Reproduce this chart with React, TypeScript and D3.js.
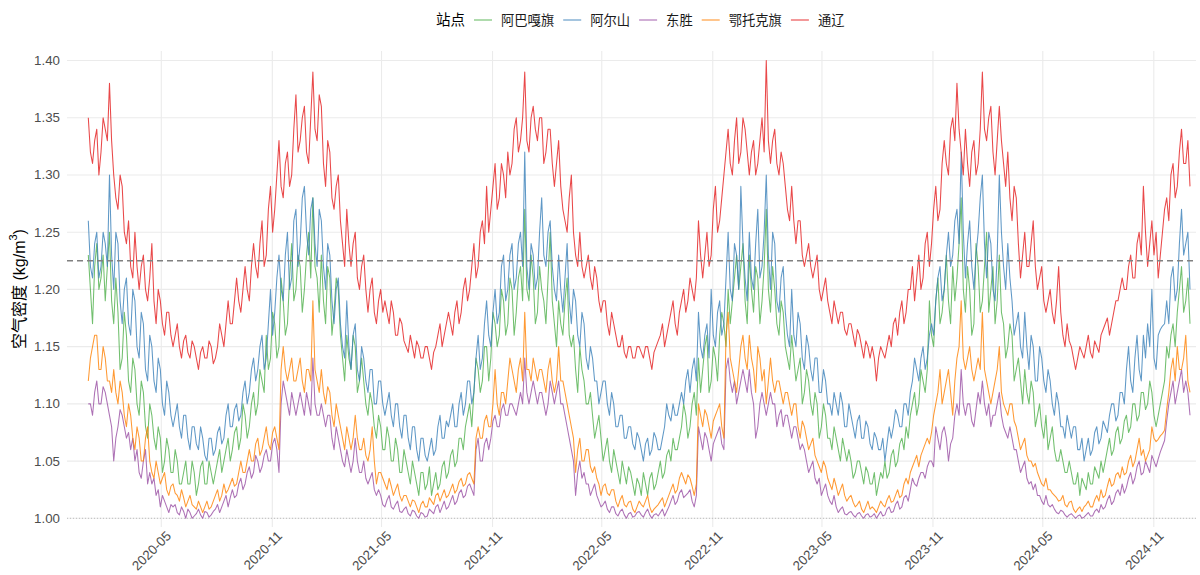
import React from "react";
import * as d3 from "d3";

// ---------------- DATA (half-weekly samples, 2020-01-01 .. 2024-12-31) ----------------
const START_DATE = "2020-01-01";
const END_DATE = "2024-12-31";

const stations = ["阿巴嘎旗", "阿尔山", "东胜", "鄂托克旗", "通辽"];

const abagaqi = [
  1.23, 1.20, 1.17, 1.22, 1.24, 1.20, 1.21, 1.23, 1.19, 1.22,
  1.25, 1.19, 1.17, 1.21, 1.18, 1.13, 1.14, 1.18, 1.16, 1.12,
  1.11, 1.14, 1.13, 1.10, 1.09, 1.12, 1.11, 1.08, 1.07, 1.10,
  1.09, 1.07, 1.06, 1.08, 1.07, 1.04, 1.05, 1.07, 1.06, 1.04,
  1.04, 1.06, 1.05, 1.03, 1.03, 1.04, 1.05, 1.03, 1.03, 1.05,
  1.04, 1.02, 1.03, 1.045, 1.05, 1.03, 1.03, 1.05, 1.04, 1.03,
  1.04, 1.05, 1.06, 1.04, 1.05, 1.06, 1.07, 1.05, 1.06, 1.075,
  1.08, 1.06, 1.07, 1.10, 1.09, 1.07, 1.08, 1.10, 1.11, 1.09,
  1.10, 1.13, 1.12, 1.11, 1.16, 1.13, 1.14, 1.18, 1.17, 1.14,
  1.15, 1.21, 1.19, 1.16, 1.17, 1.21, 1.24, 1.19, 1.20, 1.23,
  1.22, 1.18, 1.20, 1.23, 1.25, 1.21, 1.28, 1.22, 1.21, 1.18,
  1.23, 1.19, 1.17, 1.22, 1.21, 1.16, 1.18, 1.21, 1.20, 1.16,
  1.14, 1.12, 1.16, 1.14, 1.13, 1.16, 1.15, 1.11, 1.12, 1.14,
  1.12, 1.10, 1.09, 1.11, 1.10, 1.08, 1.07, 1.09, 1.08, 1.06,
  1.06, 1.08, 1.07, 1.05, 1.05, 1.07, 1.06, 1.04, 1.04, 1.06,
  1.05, 1.04, 1.03, 1.05, 1.04, 1.03, 1.02, 1.04, 1.04, 1.025,
  1.03, 1.045, 1.02, 1.03, 1.04, 1.025, 1.03, 1.045, 1.05, 1.035,
  1.04, 1.055, 1.06, 1.045, 1.05, 1.07, 1.07, 1.06, 1.08, 1.09,
  1.10, 1.08, 1.11, 1.14, 1.13, 1.11, 1.12, 1.15, 1.15, 1.12,
  1.14, 1.18, 1.17, 1.15, 1.16, 1.20, 1.19, 1.16, 1.17, 1.21,
  1.20, 1.16, 1.18, 1.21, 1.22, 1.19, 1.27, 1.20, 1.19, 1.23,
  1.21, 1.17, 1.18, 1.22, 1.20, 1.19, 1.17, 1.21, 1.25, 1.19,
  1.17, 1.15, 1.19, 1.17, 1.16, 1.19, 1.21, 1.16, 1.15, 1.16,
  1.13, 1.11, 1.15, 1.13, 1.12, 1.10, 1.10, 1.11, 1.09, 1.07,
  1.08, 1.09, 1.07, 1.05, 1.06, 1.07, 1.05, 1.04, 1.06, 1.05,
  1.04, 1.03, 1.05, 1.04, 1.03, 1.045, 1.04, 1.03, 1.02, 1.035,
  1.03, 1.02, 1.04, 1.03, 1.02, 1.035, 1.04, 1.025, 1.03, 1.04,
  1.05, 1.035, 1.04, 1.055, 1.06, 1.05, 1.07, 1.06, 1.06, 1.07,
  1.08, 1.10, 1.09, 1.07, 1.08, 1.10, 1.11, 1.09, 1.14, 1.11,
  1.13, 1.15, 1.16, 1.11, 1.12, 1.15, 1.14, 1.12, 1.16, 1.18,
  1.17, 1.15, 1.20, 1.17, 1.19, 1.21, 1.23, 1.20, 1.22, 1.24,
  1.19, 1.17, 1.23, 1.20, 1.18, 1.22, 1.21, 1.17, 1.19, 1.22,
  1.27, 1.20, 1.18, 1.22, 1.20, 1.17, 1.16, 1.19, 1.18, 1.15,
  1.14, 1.13, 1.16, 1.14, 1.12, 1.13, 1.14, 1.10, 1.11, 1.13,
  1.12, 1.10, 1.09, 1.11, 1.10, 1.07, 1.08, 1.10, 1.09, 1.07,
  1.07, 1.06, 1.08, 1.07, 1.06, 1.05, 1.07, 1.06, 1.05, 1.06,
  1.05, 1.035, 1.04, 1.05, 1.05, 1.04, 1.03, 1.045, 1.04, 1.03,
  1.03, 1.04, 1.02, 1.03, 1.04, 1.035, 1.05, 1.035, 1.04, 1.055,
  1.06, 1.045, 1.05, 1.065, 1.07, 1.06, 1.08, 1.07, 1.09, 1.10,
  1.11, 1.09, 1.10, 1.13, 1.12, 1.11, 1.13, 1.19, 1.16, 1.15,
  1.19, 1.21, 1.17, 1.18, 1.20, 1.23, 1.19, 1.17, 1.22, 1.19,
  1.21, 1.24, 1.28, 1.20, 1.18, 1.22, 1.20, 1.16, 1.17, 1.24,
  1.22, 1.18, 1.19, 1.22, 1.25, 1.18, 1.20, 1.22, 1.17, 1.19,
  1.23, 1.18, 1.17, 1.14, 1.15, 1.17, 1.16, 1.12, 1.13, 1.14,
  1.12, 1.10, 1.13, 1.11, 1.10, 1.12, 1.11, 1.08, 1.09, 1.10,
  1.08, 1.07, 1.09, 1.06, 1.07, 1.08, 1.06, 1.05, 1.05, 1.06,
  1.05, 1.04, 1.04, 1.05, 1.04, 1.03, 1.03, 1.04, 1.02, 1.035,
  1.03, 1.025, 1.04, 1.03, 1.03, 1.045, 1.04, 1.035, 1.05, 1.04,
  1.05, 1.06, 1.07, 1.055, 1.06, 1.075, 1.08, 1.065, 1.07, 1.085,
  1.09, 1.075, 1.08, 1.10, 1.10, 1.085, 1.09, 1.11, 1.11, 1.095,
  1.10, 1.12, 1.11, 1.09, 1.08, 1.09, 1.10, 1.11, 1.12, 1.15,
  1.14, 1.16, 1.17, 1.15, 1.18, 1.20, 1.22, 1.18, 1.19, 1.21, 1.17,
];

const aershan = [
  1.26, 1.22, 1.21, 1.24, 1.25, 1.21, 1.22, 1.25, 1.24, 1.22,
  1.30, 1.23, 1.20, 1.25, 1.24, 1.19, 1.17, 1.20, 1.21, 1.17,
  1.16, 1.20, 1.19, 1.15, 1.14, 1.18, 1.17, 1.13, 1.12, 1.16,
  1.15, 1.12, 1.11, 1.14, 1.13, 1.10, 1.09, 1.12, 1.11, 1.09,
  1.08, 1.09, 1.10, 1.08, 1.07, 1.09, 1.09, 1.07, 1.06, 1.08,
  1.08, 1.065, 1.06, 1.08, 1.07, 1.055, 1.05, 1.07, 1.07, 1.055,
  1.06, 1.075, 1.08, 1.065, 1.07, 1.09, 1.10, 1.08, 1.08, 1.095,
  1.10, 1.085, 1.09, 1.11, 1.12, 1.10, 1.11, 1.13, 1.14, 1.12,
  1.13, 1.15, 1.16, 1.13, 1.14, 1.17, 1.20, 1.16, 1.18, 1.21,
  1.23, 1.20, 1.19, 1.23, 1.25, 1.20, 1.21, 1.26, 1.27, 1.22,
  1.24, 1.28, 1.29, 1.25, 1.23, 1.27, 1.28, 1.24, 1.22, 1.27,
  1.26, 1.22, 1.20, 1.24, 1.23, 1.19, 1.17, 1.20, 1.21, 1.17,
  1.15, 1.14, 1.19, 1.15, 1.13, 1.16, 1.17, 1.13, 1.12, 1.15,
  1.14, 1.12, 1.11, 1.13, 1.13, 1.10, 1.10, 1.12, 1.12, 1.10,
  1.09, 1.10, 1.11, 1.09, 1.08, 1.10, 1.10, 1.08, 1.07, 1.09,
  1.09, 1.07, 1.06, 1.08, 1.08, 1.06, 1.05, 1.07, 1.07, 1.055,
  1.05, 1.06, 1.07, 1.055, 1.06, 1.08, 1.09, 1.07, 1.07, 1.085,
  1.08, 1.09, 1.10, 1.08, 1.08, 1.10, 1.11, 1.09, 1.10, 1.12,
  1.12, 1.10, 1.11, 1.14, 1.16, 1.13, 1.14, 1.17, 1.19, 1.16,
  1.15, 1.18, 1.20, 1.17, 1.18, 1.22, 1.23, 1.19, 1.20, 1.23,
  1.24, 1.20, 1.21, 1.24, 1.25, 1.22, 1.32, 1.22, 1.20, 1.24,
  1.23, 1.20, 1.21, 1.25, 1.28, 1.23, 1.22, 1.25, 1.26, 1.22,
  1.20, 1.19, 1.23, 1.20, 1.18, 1.21, 1.24, 1.19, 1.17, 1.20,
  1.19, 1.16, 1.15, 1.18, 1.17, 1.14, 1.13, 1.15, 1.14, 1.12,
  1.12, 1.10, 1.11, 1.12, 1.12, 1.10, 1.09, 1.11, 1.10, 1.08,
  1.08, 1.09, 1.09, 1.07, 1.07, 1.08, 1.08, 1.065, 1.06, 1.075,
  1.07, 1.06, 1.05, 1.065, 1.07, 1.055, 1.06, 1.075, 1.07, 1.06,
  1.06, 1.07, 1.08, 1.10, 1.09, 1.085, 1.10, 1.09, 1.09, 1.10,
  1.11, 1.10, 1.12, 1.13, 1.11, 1.13, 1.14, 1.12, 1.18, 1.15,
  1.14, 1.16, 1.17, 1.14, 1.20, 1.16, 1.15, 1.18, 1.19, 1.16,
  1.17, 1.21, 1.25, 1.20, 1.19, 1.24, 1.23, 1.20, 1.29, 1.24,
  1.21, 1.19, 1.25, 1.21, 1.20, 1.24, 1.27, 1.21, 1.22, 1.25,
  1.30, 1.23, 1.20, 1.25, 1.24, 1.19, 1.18, 1.21, 1.22, 1.18,
  1.16, 1.15, 1.20, 1.16, 1.15, 1.18, 1.17, 1.14, 1.13, 1.16,
  1.15, 1.13, 1.12, 1.14, 1.14, 1.11, 1.11, 1.13, 1.12, 1.10,
  1.10, 1.09, 1.11, 1.10, 1.09, 1.11, 1.10, 1.08, 1.08, 1.10,
  1.09, 1.08, 1.07, 1.085, 1.09, 1.07, 1.07, 1.085, 1.08, 1.065,
  1.06, 1.075, 1.07, 1.06, 1.06, 1.07, 1.05, 1.065, 1.08, 1.07,
  1.08, 1.095, 1.09, 1.08, 1.08, 1.10, 1.10, 1.09, 1.11, 1.12,
  1.14, 1.13, 1.12, 1.14, 1.15, 1.13, 1.14, 1.16, 1.17, 1.16,
  1.19, 1.21, 1.22, 1.19, 1.20, 1.23, 1.25, 1.22, 1.23, 1.26,
  1.27, 1.24, 1.32, 1.25, 1.21, 1.24, 1.26, 1.22, 1.20, 1.23,
  1.25, 1.28, 1.30, 1.24, 1.21, 1.25, 1.24, 1.20, 1.19, 1.23,
  1.30, 1.25, 1.22, 1.20, 1.24, 1.21, 1.19, 1.16, 1.17, 1.18,
  1.15, 1.14, 1.18, 1.15, 1.13, 1.16, 1.15, 1.12, 1.12, 1.15,
  1.14, 1.12, 1.11, 1.13, 1.12, 1.10, 1.09, 1.11, 1.10, 1.08,
  1.08, 1.07, 1.09, 1.08, 1.07, 1.08, 1.08, 1.06, 1.06, 1.07,
  1.05, 1.06, 1.07, 1.055, 1.06, 1.075, 1.08, 1.065, 1.07, 1.085,
  1.08, 1.075, 1.09, 1.10, 1.10, 1.085, 1.09, 1.11, 1.11, 1.10,
  1.13, 1.15, 1.12, 1.11, 1.14, 1.16, 1.13, 1.12, 1.16, 1.14,
  1.17, 1.15, 1.20, 1.14, 1.13, 1.16, 1.165, 1.168, 1.17, 1.19,
  1.17, 1.21, 1.22, 1.19, 1.20, 1.24, 1.27, 1.23, 1.24, 1.25, 1.20,
];

const dongsheng = [
  1.10, 1.10, 1.09, 1.11, 1.12, 1.10, 1.10, 1.115, 1.11, 1.10,
  1.09, 1.08, 1.05, 1.07, 1.08, 1.095, 1.09, 1.08, 1.07, 1.075,
  1.06, 1.07, 1.05, 1.06, 1.04, 1.035, 1.05, 1.06, 1.03, 1.04,
  1.03, 1.035, 1.02, 1.025, 1.01, 1.02, 1.015, 1.01, 1.005, 1.012,
  1.01, 1.012, 1.005, 1.003, 1.01, 1.006, 1.0, 1.008, 1.005, 1.0,
  1.002, 1.004, 1.008, 1.003, 1.0, 1.006, 1.005, 1.001, 1.003, 1.006,
  1.008, 1.012, 1.005, 1.01, 1.015, 1.02, 1.01, 1.018, 1.025, 1.018,
  1.02, 1.03, 1.035, 1.025, 1.03, 1.04, 1.045, 1.035, 1.04, 1.055,
  1.05, 1.04, 1.045, 1.055, 1.06, 1.05, 1.05, 1.065, 1.07, 1.06,
  1.04, 1.10, 1.12, 1.11, 1.10, 1.09, 1.11, 1.10, 1.09, 1.10,
  1.11, 1.10, 1.09, 1.11, 1.10, 1.09, 1.14, 1.10, 1.09, 1.09,
  1.10, 1.09, 1.08, 1.09, 1.09, 1.07, 1.06, 1.08, 1.07, 1.06,
  1.05, 1.045, 1.06, 1.05, 1.04, 1.05, 1.07, 1.05, 1.04, 1.04,
  1.05, 1.035, 1.03, 1.035, 1.04, 1.025, 1.02, 1.025, 1.02, 1.012,
  1.01, 1.016, 1.02, 1.01, 1.008, 1.012, 1.015, 1.006, 1.005, 1.008,
  1.01, 1.004, 1.002, 1.007, 1.006, 1.002, 1.0, 1.005, 1.004, 1.001,
  1.002, 1.008, 1.006, 1.004, 1.01, 1.012, 1.005, 1.01, 1.015, 1.008,
  1.01, 1.015, 1.02, 1.012, 1.015, 1.022, 1.025, 1.018, 1.02, 1.028,
  1.03, 1.025, 1.02, 1.06, 1.07, 1.05, 1.05, 1.065, 1.07, 1.06,
  1.07, 1.085, 1.09, 1.08, 1.08, 1.095, 1.10, 1.09, 1.09, 1.10,
  1.10, 1.095, 1.09, 1.10, 1.11, 1.10, 1.14, 1.11, 1.10, 1.11,
  1.12, 1.11, 1.10, 1.11, 1.11, 1.10, 1.09, 1.10, 1.12, 1.11,
  1.10, 1.11, 1.12, 1.10, 1.10, 1.09, 1.08, 1.07, 1.06, 1.05,
  1.02, 1.04, 1.05, 1.035, 1.04, 1.03, 1.03, 1.02, 1.025, 1.03,
  1.02, 1.015, 1.01, 1.012, 1.015, 1.008, 1.005, 1.01, 1.01, 1.004,
  1.002, 1.006, 1.008, 1.003, 1.0, 1.004, 1.005, 1.001, 1.002, 1.005,
  1.006, 1.003, 1.001, 1.005, 1.008, 1.003, 1.0, 1.003, 1.004, 1.002,
  1.005, 1.008, 1.002, 1.006, 1.01, 1.015, 1.02, 1.012, 1.015, 1.022,
  1.025, 1.018, 1.02, 1.022, 1.025, 1.015, 1.01, 1.02, 1.08, 1.07,
  1.06, 1.075, 1.07, 1.06, 1.05, 1.065, 1.07, 1.075, 1.08, 1.065,
  1.06, 1.13, 1.14, 1.12, 1.11, 1.12, 1.10, 1.11, 1.12, 1.13,
  1.12, 1.11, 1.13, 1.11, 1.10, 1.07, 1.08, 1.10, 1.11, 1.10,
  1.09, 1.10, 1.11, 1.10, 1.10, 1.08, 1.09, 1.095, 1.08, 1.09,
  1.09, 1.08, 1.07, 1.08, 1.08, 1.07, 1.06, 1.065, 1.06, 1.05,
  1.04, 1.045, 1.05, 1.035, 1.03, 1.035, 1.02, 1.025, 1.03, 1.02,
  1.015, 1.012, 1.02, 1.01, 1.005, 1.008, 1.01, 1.004, 1.003, 1.005,
  1.006, 1.003, 1.001, 1.004, 1.005, 1.002, 1.0, 1.003, 1.004, 1.001,
  1.002, 1.004, 1.0, 1.003, 1.006, 1.002, 1.003, 1.008, 1.01, 1.005,
  1.006, 1.012, 1.015, 1.008, 1.01, 1.018, 1.02, 1.015, 1.025, 1.035,
  1.03, 1.028, 1.035, 1.04, 1.04, 1.035, 1.045, 1.05, 1.05, 1.045,
  1.08, 1.07, 1.06, 1.075, 1.08, 1.07, 1.05, 1.065, 1.07, 1.09,
  1.10, 1.09, 1.13, 1.10, 1.09, 1.10, 1.10, 1.085, 1.08, 1.095,
  1.11, 1.10, 1.12, 1.10, 1.09, 1.10, 1.08, 1.09, 1.09, 1.10,
  1.11, 1.09, 1.08, 1.075, 1.07, 1.08, 1.07, 1.06, 1.06, 1.05,
  1.04, 1.045, 1.05, 1.035, 1.03, 1.032, 1.025, 1.03, 1.02, 1.02,
  1.015, 1.012, 1.02, 1.012, 1.01, 1.012, 1.008, 1.005, 1.004, 1.007,
  1.006, 1.003, 1.001, 1.003, 1.004, 1.002, 1.0, 1.002, 1.003, 1.0,
  1.001, 1.003, 1.005, 1.002, 1.002, 1.006, 1.008, 1.005, 1.012, 1.008,
  1.01, 1.016, 1.02, 1.012, 1.015, 1.022, 1.025, 1.02, 1.03, 1.022,
  1.027, 1.035, 1.04, 1.03, 1.035, 1.045, 1.05, 1.038, 1.04, 1.05,
  1.045, 1.04, 1.055, 1.05, 1.045, 1.052, 1.058, 1.063, 1.068, 1.085,
  1.10, 1.11, 1.12, 1.10, 1.11, 1.12, 1.13, 1.11, 1.12, 1.11, 1.09,
];

const etuokeqi = [
  1.12, 1.14, 1.15, 1.16, 1.16, 1.13, 1.13, 1.15, 1.14, 1.12,
  1.12, 1.11, 1.13, 1.11, 1.10, 1.12, 1.11, 1.09, 1.08, 1.10,
  1.09, 1.07, 1.06, 1.08, 1.07, 1.05, 1.05, 1.07, 1.08, 1.05,
  1.04, 1.035, 1.05, 1.04, 1.03, 1.035, 1.04, 1.025, 1.02, 1.028,
  1.03, 1.022, 1.02, 1.015, 1.025, 1.018, 1.01, 1.015, 1.02, 1.012,
  1.01, 1.008, 1.015, 1.01, 1.005, 1.01, 1.015, 1.008, 1.01, 1.015,
  1.02, 1.025, 1.015, 1.02, 1.03, 1.022, 1.025, 1.03, 1.035, 1.028,
  1.03, 1.04, 1.05, 1.04, 1.04, 1.05, 1.06, 1.05, 1.05, 1.065,
  1.07, 1.055, 1.06, 1.07, 1.08, 1.065, 1.06, 1.075, 1.08, 1.07,
  1.06, 1.13, 1.15, 1.13, 1.12, 1.13, 1.14, 1.12, 1.12, 1.13,
  1.14, 1.12, 1.11, 1.13, 1.13, 1.12, 1.19, 1.13, 1.12, 1.11,
  1.13, 1.11, 1.10, 1.115, 1.11, 1.09, 1.08, 1.10, 1.09, 1.08,
  1.07, 1.06, 1.08, 1.07, 1.06, 1.07, 1.09, 1.07, 1.06, 1.06,
  1.07, 1.055, 1.05, 1.06, 1.08, 1.05, 1.03, 1.04, 1.04, 1.035,
  1.03, 1.025, 1.035, 1.028, 1.02, 1.025, 1.03, 1.02, 1.015, 1.02,
  1.02, 1.015, 1.01, 1.016, 1.015, 1.01, 1.005, 1.012, 1.015, 1.01,
  1.01, 1.018, 1.015, 1.012, 1.02, 1.022, 1.015, 1.02, 1.025, 1.018,
  1.02, 1.025, 1.03, 1.022, 1.025, 1.032, 1.035, 1.028, 1.03, 1.038,
  1.04, 1.035, 1.03, 1.07, 1.08, 1.07, 1.07, 1.085, 1.09, 1.08,
  1.08, 1.10, 1.13, 1.10, 1.09, 1.11, 1.11, 1.10, 1.12, 1.14,
  1.13, 1.12, 1.11, 1.13, 1.14, 1.12, 1.18, 1.13, 1.13, 1.12,
  1.14, 1.13, 1.12, 1.13, 1.13, 1.12, 1.11, 1.13, 1.14, 1.12,
  1.11, 1.12, 1.15, 1.12, 1.12, 1.11, 1.10, 1.09, 1.08, 1.07,
  1.04, 1.06, 1.07, 1.05, 1.05, 1.06, 1.06, 1.045, 1.04, 1.045,
  1.035, 1.03, 1.02, 1.028, 1.03, 1.022, 1.02, 1.025, 1.025, 1.015,
  1.01, 1.016, 1.02, 1.012, 1.01, 1.014, 1.015, 1.008, 1.005, 1.01,
  1.015, 1.012, 1.01, 1.015, 1.02, 1.01, 1.005, 1.008, 1.01, 1.012,
  1.015, 1.018, 1.01, 1.015, 1.02, 1.025, 1.03, 1.022, 1.025, 1.035,
  1.04, 1.035, 1.03, 1.038, 1.035, 1.028, 1.02, 1.03, 1.10, 1.09,
  1.08, 1.095, 1.09, 1.08, 1.07, 1.085, 1.09, 1.095, 1.10, 1.08,
  1.07, 1.16, 1.18, 1.14, 1.13, 1.12, 1.11, 1.13, 1.15, 1.16,
  1.14, 1.13, 1.16, 1.14, 1.13, 1.11, 1.15, 1.14, 1.12, 1.13,
  1.10, 1.12, 1.14, 1.12, 1.11, 1.12, 1.12, 1.11, 1.10, 1.11,
  1.11, 1.10, 1.09, 1.10, 1.10, 1.08, 1.07, 1.085, 1.08, 1.07,
  1.06, 1.065, 1.07, 1.055, 1.05, 1.045, 1.04, 1.05, 1.045, 1.035,
  1.03, 1.025, 1.035, 1.028, 1.02, 1.025, 1.03, 1.02, 1.015, 1.018,
  1.02, 1.014, 1.01, 1.012, 1.015, 1.008, 1.005, 1.01, 1.015, 1.008,
  1.01, 1.008, 1.005, 1.01, 1.015, 1.012, 1.01, 1.016, 1.02, 1.014,
  1.015, 1.02, 1.025, 1.018, 1.02, 1.03, 1.035, 1.03, 1.04, 1.045,
  1.05, 1.055, 1.045, 1.055, 1.06, 1.065, 1.07, 1.065, 1.075, 1.09,
  1.10, 1.11, 1.13, 1.10, 1.11, 1.12, 1.13, 1.11, 1.09, 1.12,
  1.14, 1.15, 1.19, 1.14, 1.13, 1.14, 1.15, 1.13, 1.12, 1.13,
  1.14, 1.13, 1.18, 1.13, 1.12, 1.11, 1.10, 1.11, 1.12, 1.13,
  1.15, 1.11, 1.10, 1.095, 1.09, 1.10, 1.10, 1.085, 1.08, 1.07,
  1.06, 1.065, 1.07, 1.055, 1.05, 1.05, 1.045, 1.048, 1.04, 1.035,
  1.03, 1.028, 1.035, 1.025, 1.025, 1.022, 1.02, 1.018, 1.015, 1.016,
  1.02, 1.012, 1.01, 1.014, 1.015, 1.008, 1.005, 1.008, 1.01, 1.006,
  1.01, 1.012, 1.015, 1.01, 1.01, 1.016, 1.02, 1.015, 1.025, 1.018,
  1.02, 1.028, 1.035, 1.028, 1.03, 1.038, 1.04, 1.035, 1.045, 1.038,
  1.04, 1.05, 1.055, 1.045, 1.05, 1.06, 1.07, 1.055, 1.06, 1.05,
  1.055, 1.06, 1.08, 1.07, 1.067, 1.069, 1.072, 1.074, 1.077, 1.095,
  1.11, 1.13, 1.14, 1.12, 1.15, 1.13, 1.13, 1.14, 1.16, 1.12, 1.11,
];

const tongliao = [
  1.35, 1.32, 1.31, 1.33, 1.34, 1.30, 1.32, 1.35, 1.34, 1.33,
  1.38, 1.33, 1.30, 1.28, 1.27, 1.30, 1.29, 1.25, 1.24, 1.26,
  1.22, 1.21, 1.25, 1.22, 1.20, 1.22, 1.23, 1.20, 1.19, 1.21,
  1.24, 1.19, 1.17, 1.20, 1.19, 1.17, 1.16, 1.18, 1.18, 1.16,
  1.15, 1.16, 1.17, 1.15, 1.14, 1.155, 1.16, 1.145, 1.14, 1.155,
  1.15, 1.14, 1.13, 1.145, 1.15, 1.14, 1.14, 1.155, 1.15, 1.135,
  1.14, 1.15, 1.17, 1.16, 1.15, 1.17, 1.19, 1.17, 1.17, 1.19,
  1.21, 1.19, 1.18, 1.20, 1.22, 1.20, 1.19, 1.22, 1.24, 1.22,
  1.21, 1.24, 1.26, 1.22, 1.23, 1.27, 1.29, 1.25, 1.27, 1.30,
  1.33, 1.29, 1.28, 1.31, 1.32, 1.29, 1.30, 1.34, 1.37, 1.32,
  1.33, 1.35, 1.36, 1.32, 1.31, 1.35, 1.39, 1.34, 1.33, 1.37,
  1.36, 1.31, 1.29, 1.33, 1.32, 1.28, 1.27, 1.29, 1.30, 1.26,
  1.24, 1.22, 1.27, 1.24, 1.22, 1.24, 1.25, 1.21, 1.20, 1.22,
  1.23, 1.20, 1.18, 1.20, 1.21, 1.18, 1.17, 1.19, 1.20, 1.18,
  1.19, 1.18, 1.17, 1.19, 1.18, 1.16, 1.16, 1.175, 1.17, 1.155,
  1.15, 1.145, 1.16, 1.15, 1.14, 1.155, 1.15, 1.14, 1.14, 1.15,
  1.15, 1.14, 1.13, 1.145, 1.15, 1.16, 1.17, 1.15, 1.16, 1.17,
  1.18, 1.17, 1.16, 1.18, 1.19, 1.17, 1.18, 1.20, 1.21, 1.19,
  1.20, 1.22, 1.24, 1.21, 1.22, 1.25, 1.26, 1.24, 1.29, 1.25,
  1.27, 1.29, 1.31, 1.27, 1.28, 1.31, 1.30, 1.28, 1.32, 1.30,
  1.31, 1.34, 1.35, 1.32, 1.33, 1.35, 1.39, 1.33, 1.32, 1.35,
  1.36, 1.34, 1.33, 1.35, 1.35, 1.31, 1.32, 1.34, 1.34, 1.31,
  1.29, 1.31, 1.33, 1.29, 1.27, 1.26, 1.25, 1.28, 1.30, 1.25,
  1.23, 1.22, 1.25, 1.22, 1.21, 1.22, 1.23, 1.21, 1.20, 1.22,
  1.21, 1.19, 1.18, 1.19, 1.19, 1.17, 1.16, 1.18, 1.17, 1.16,
  1.15, 1.15, 1.16, 1.145, 1.14, 1.15, 1.15, 1.14, 1.14, 1.15,
  1.15, 1.145, 1.14, 1.15, 1.15, 1.14, 1.13, 1.145, 1.15, 1.155,
  1.16, 1.17, 1.15, 1.16, 1.17, 1.18, 1.19, 1.17, 1.16, 1.18,
  1.19, 1.20, 1.18, 1.19, 1.21, 1.20, 1.19, 1.21, 1.26, 1.23,
  1.21, 1.23, 1.25, 1.22, 1.23, 1.27, 1.29, 1.25, 1.26, 1.28,
  1.30, 1.32, 1.34, 1.31, 1.30, 1.33, 1.35, 1.31, 1.32, 1.35,
  1.34, 1.32, 1.30, 1.32, 1.33, 1.30, 1.31, 1.33, 1.35, 1.32,
  1.40, 1.33, 1.31, 1.33, 1.34, 1.31, 1.30, 1.32, 1.31, 1.29,
  1.27, 1.26, 1.29, 1.26, 1.24, 1.26, 1.26, 1.23, 1.22, 1.23,
  1.24, 1.22, 1.21, 1.22, 1.23, 1.20, 1.19, 1.20, 1.21, 1.19,
  1.18, 1.17, 1.19, 1.18, 1.17, 1.18, 1.18, 1.165, 1.16, 1.17,
  1.17, 1.16, 1.15, 1.165, 1.16, 1.15, 1.14, 1.155, 1.15, 1.14,
  1.15, 1.14, 1.12, 1.14, 1.15, 1.145, 1.14, 1.15, 1.16, 1.15,
  1.17, 1.175, 1.16, 1.18, 1.19, 1.17, 1.18, 1.20, 1.20, 1.22,
  1.19, 1.21, 1.23, 1.20, 1.21, 1.24, 1.25, 1.22, 1.24, 1.27,
  1.29, 1.26, 1.27, 1.31, 1.33, 1.31, 1.30, 1.34, 1.35, 1.33,
  1.38, 1.34, 1.32, 1.30, 1.34, 1.31, 1.29, 1.32, 1.33, 1.30,
  1.31, 1.34, 1.39, 1.34, 1.33, 1.35, 1.36, 1.32, 1.30, 1.33,
  1.36, 1.33, 1.31, 1.29, 1.32, 1.28, 1.26, 1.29, 1.28, 1.24,
  1.21, 1.23, 1.25, 1.22, 1.22, 1.24, 1.26, 1.22, 1.20, 1.21,
  1.22, 1.19, 1.18, 1.19, 1.20, 1.18, 1.17, 1.19, 1.22, 1.18,
  1.16, 1.15, 1.17, 1.155, 1.15, 1.14, 1.13, 1.14, 1.15, 1.145,
  1.14, 1.15, 1.16, 1.145, 1.14, 1.155, 1.15, 1.145, 1.16, 1.165,
  1.17, 1.175, 1.16, 1.17, 1.18, 1.19, 1.19, 1.20, 1.21, 1.20,
  1.20, 1.22, 1.23, 1.21, 1.21, 1.24, 1.25, 1.23, 1.29, 1.25,
  1.22, 1.24, 1.26, 1.23, 1.25, 1.21, 1.23, 1.25, 1.27, 1.28,
  1.26, 1.30, 1.31, 1.28, 1.29, 1.32, 1.34, 1.31, 1.31, 1.33, 1.29,
];

const seriesValues = [abagaqi, aershan, dongsheng, etuokeqi, tongliao];

const xTickLabels = ["2020-05", "2020-11", "2021-05", "2021-11", "2022-05", "2022-11", "2023-05", "2023-11", "2024-05", "2024-11"];
const yTickValues = [1.0, 1.05, 1.1, 1.15, 1.2, 1.25, 1.3, 1.35, 1.4];
const referenceDensity = 1.225;
const baselineDensity = 1.0;

const legendTitle = "站点";
const yAxisTitle = "空气密度 (kg/m";

// ---------------- STYLE ----------------
const COLORS = ["#4DAF4A", "#377EB8", "#984EA3", "#FF7F00", "#E41A1C"];
const FONT = "'Liberation Sans', Arial, 'Noto Sans CJK SC', sans-serif";

const W = 1200;
const H = 575;
const PANEL = { left: 67, right: 1196, top: 51, bottom: 527 };

const parseDay = d3.timeParse("%Y-%m-%d");
const parseMonth = d3.timeParse("%Y-%m");

export default function App() {
  const start = parseDay(START_DATE) as Date;
  const end = parseDay(END_DATE) as Date;

  const x = d3.scaleTime().domain([start, end]).range([88.3, 1190]);
  const y = d3.scaleLinear().domain([1.0, 1.4]).range([518.3, 60.5]);

  const paths = seriesValues.map((vals) => {
    const idx = d3.scaleLinear().domain([0, vals.length - 1]).range([start.getTime(), end.getTime()]);
    const line = d3
      .line<number>()
      .x((_, i) => x(new Date(idx(i))))
      .y((d) => y(d));
    return line(vals) || "";
  });

  const xTicks = xTickLabels.map((s) => ({ label: s, date: parseMonth(s) as Date }));

  // legend layout
  const charW = 13.3;
  const titleW = 29;
  const gap = 9;
  const keyLen = 18;
  let cursor = 436 + titleW + gap;
  const legendItems = stations.map((name, i) => {
    const keyX = cursor;
    const labelX = keyX + keyLen + gap;
    const labelW = name.length * charW;
    cursor = labelX + labelW + gap;
    return { name, color: COLORS[i], keyX, labelX };
  });

  return (
    <svg
      width={W}
      height={H}
      style={{ position: "absolute", left: 0, top: 0, background: "#fff" }}
      fontFamily={FONT}
    >
      <rect x={0} y={0} width={W} height={H} fill="#fff" />
      {yTickValues.map((v) => (
        <line key={"gy" + v} x1={PANEL.left} x2={PANEL.right} y1={y(v)} y2={y(v)} stroke="#ebebeb" strokeWidth={1.1} />
      ))}
      {xTicks.map((t) => (
        <line key={"gx" + t.label} x1={x(t.date)} x2={x(t.date)} y1={PANEL.top} y2={PANEL.bottom} stroke="#ebebeb" strokeWidth={1.1} />
      ))}
      <line
        x1={PANEL.left}
        x2={PANEL.right}
        y1={y(baselineDensity)}
        y2={y(baselineDensity)}
        stroke="#bdbdbd"
        strokeWidth={1}
        strokeDasharray="1,2"
      />
      {yTickValues.map((v) => (
        <text key={"yl" + v} x={60} y={y(v)} textAnchor="end" dominantBaseline="central" fontSize={13.3} fill="#4d4d4d">
          {v.toFixed(2)}
        </text>
      ))}
      {xTicks.map((t) => (
        <text
          key={"xl" + t.label}
          transform={`translate(${x(t.date) + 4},${530}) rotate(-45)`}
          textAnchor="end"
          dominantBaseline="hanging"
          fontSize={13.3}
          fill="#4d4d4d"
        >
          {t.label}
        </text>
      ))}
      {paths.map((d, i) => (
        <path key={"s" + i} d={d} fill="none" stroke={COLORS[i]} strokeOpacity={0.8} strokeWidth={1.05} strokeLinejoin="round" />
      ))}
      <line
        x1={PANEL.left}
        x2={PANEL.right}
        y1={y(referenceDensity)}
        y2={y(referenceDensity)}
        stroke="#808080"
        strokeWidth={1.4}
        strokeDasharray="6,4"
      />
      <text x={436} y={20} dominantBaseline="central" fontSize={14.5} fill="#000">
        {legendTitle}
      </text>
      {legendItems.map((it) => (
        <g key={"lg" + it.name}>
          <line x1={it.keyX} x2={it.keyX + keyLen} y1={20} y2={20} stroke={it.color} strokeOpacity={0.45} strokeWidth={2} />
          <text x={it.labelX} y={20} dominantBaseline="central" fontSize={13.3} fill="#1a1a1a">
            {it.name}
          </text>
        </g>
      ))}
      <text
        transform={`translate(19,${(PANEL.top + PANEL.bottom) / 2}) rotate(-90)`}
        textAnchor="middle"
        dominantBaseline="central"
        fontSize={16}
        fill="#000"
      >
        {yAxisTitle}
        <tspan baselineShift="super" fontSize={11}>
          3
        </tspan>
        )
      </text>
    </svg>
  );
}
